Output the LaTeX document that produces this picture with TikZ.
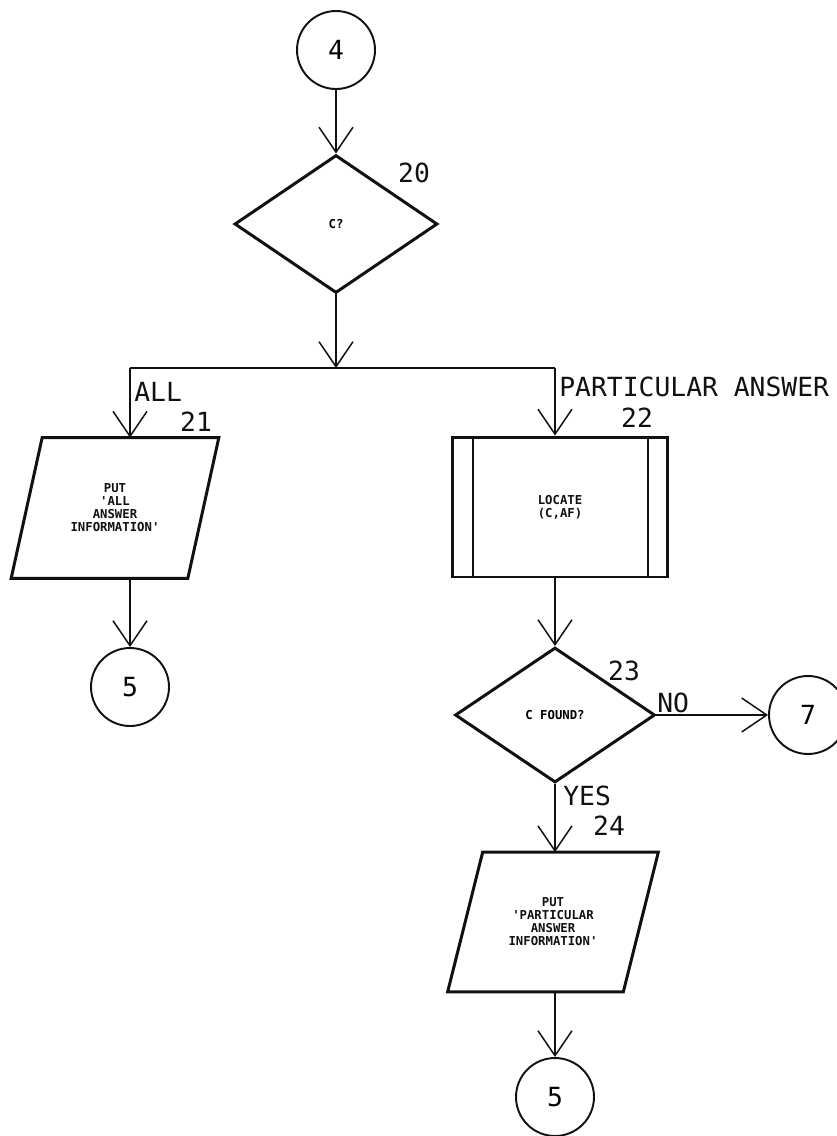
\documentclass[tikz,border=0pt]{standalone}
\usepackage{fontspec}
\usepackage{tikz}
\usetikzlibrary{arrows.meta,calc,shapes.geometric}
\newfontfamily\plotfont{DejaVu Sans Mono}
\definecolor{INK}{HTML}{111111}

\begin{document}
\begin{tikzpicture}[x=0.02cm,y=-0.02cm]
\tikzset{arr/.style={-{Straight Barb[length=0.5cm,width=0.68cm]},line width=0.85pt,INK},
 ln/.style={line width=0.85pt,INK},edge/.style={line width=1.7pt,INK,line join=miter},
 conn/.style={circle,draw=INK,line width=1.1pt,minimum size=1.56cm,inner sep=0pt,font=\plotfont\fontsize{15}{18}\selectfont},
 dec/.style={diamond,draw=INK,line width=1.7pt,inner sep=0pt,font=\plotfont\bfseries\fontsize{7}{7.2}\selectfont},
 tag/.style={inner sep=0pt,INK,font=\plotfont\fontsize{15}{18}\selectfont},
 body/.style={inner sep=0pt,align=center,INK,font=\plotfont\bfseries\fontsize{7}{7.4}\selectfont}}
\useasboundingbox (0,0) rectangle (837,1136);
% top
\node[conn] (c4) at (336,50) {4};
\node[dec,minimum width=4.06cm,minimum height=2.76cm] (d20) at (336,224) {C?};
\node[tag] (l20) at (414,173) {20};
\coordinate (bar) at (336,368);\coordinate (barL) at (130,368);\coordinate (barR) at (555,368);
\draw[arr] (c4) -- (d20);
\draw[arr] (d20) -- (bar);
\draw[ln] (barL) -- (barR);
% left branch
\node[body,minimum width=3.52cm,minimum height=2.8cm] (p21) at (115,508) {PUT\\'ALL\\ANSWER\\INFORMATION'};
\draw[edge] ($(p21.north west)+(15.5,0)$) -- ($(p21.north east)+(15.5,0)$) -- ($(p21.south east)+(-15.5,0)$) -- ($(p21.south west)+(-15.5,0)$) -- cycle;
\node[tag,anchor=west] (lall) at (134,392) {ALL};
\node[tag] (l21) at (196,422) {21};
\draw[arr] (barL) -- (barL |- p21.north);
\node[conn] (c5a) at (130,687) {5};
\draw[arr] (barL |- p21.south) -- (c5a);
% right branch
\node[body,draw=INK,line width=1.7pt,minimum width=4.3cm,minimum height=2.8cm] (b22) at (560,507) {LOCATE\\(C,AF)};
\draw[line width=1.1pt,INK] ($(b22.north west)+(22,0)$) -- ($(b22.south west)+(22,0)$);
\draw[line width=1.1pt,INK] ($(b22.north east)+(-21,0)$) -- ($(b22.south east)+(-21,0)$);
\node[tag,anchor=west] (lpart) at (559,387) {PARTICULAR ANSWER};
\node[tag] (l22) at (637,418) {22};
\draw[arr] (barR) -- (barR |- b22.north);
\node[dec,minimum width=4cm,minimum height=2.7cm] (d23) at (555,715) {C FOUND?};
\node[tag] (l23) at (624,671) {23};
\draw[arr] (barR |- b22.south) -- (d23);
\node[conn] (c7) at (808,715) {7};
\node[tag,anchor=west] (lno) at (657,703) {NO};
\draw[arr] (d23.east) -- (c7.west);
\node[tag,anchor=west] (lyes) at (563,796) {YES};
\node[tag] (l24) at (609,826) {24};
\node[body,minimum width=3.5cm,minimum height=2.78cm] (p24) at (553,922) {PUT\\'PARTICULAR\\ANSWER\\INFORMATION'};
\draw[edge] ($(p24.north west)+(17.5,0)$) -- ($(p24.north east)+(17.5,0)$) -- ($(p24.south east)+(-17.5,0)$) -- ($(p24.south west)+(-17.5,0)$) -- cycle;
\draw[arr] (d23) -- (d23 |- p24.north);
\node[conn] (c5b) at (555,1097) {5};
\draw[arr] (d23 |- p24.south) -- (c5b);
\end{tikzpicture}
\end{document}
